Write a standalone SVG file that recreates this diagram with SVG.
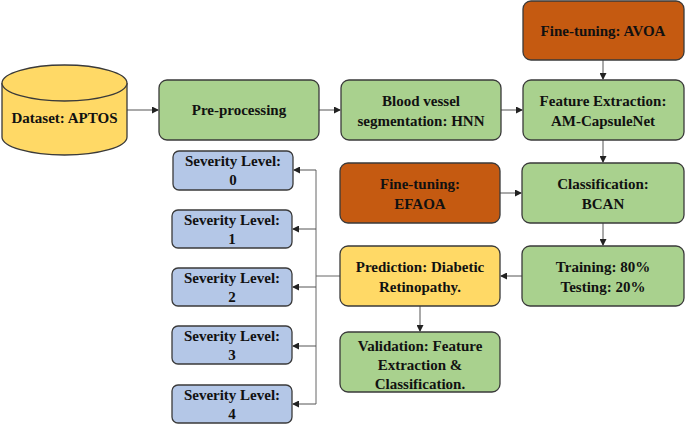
<svg xmlns="http://www.w3.org/2000/svg" width="685" height="425" viewBox="0 0 685 425">
<style>
.b{stroke:#3a3a3a;stroke-width:1.3}
.g{fill:#A9D18E}.o{fill:#C55A11}.y{fill:#FFD966}.l{fill:#B4C7E7}
text{font-family:"Liberation Serif","Times New Roman","DejaVu Serif",serif;font-weight:bold;font-size:15px;fill:#111;text-anchor:middle}
.c{stroke:#555;stroke-width:1;fill:none;marker-end:url(#a)}
</style>
<defs><marker id="a" markerWidth="7" markerHeight="7" refX="6" refY="3.5" orient="auto" markerUnits="userSpaceOnUse"><path d="M0,0L7,3.5L0,7z" fill="#222"/></marker></defs>
<g id="connectors">
<path class="c" d="M127,110H158"/>
<path class="c" d="M319,110H340"/>
<path class="c" d="M501,110H522"/>
<path class="c" d="M603,60V79"/>
<path class="c" d="M603,140V162"/>
<path class="c" d="M500,193H521"/>
<path class="c" d="M603,223V245"/>
<path class="c" d="M522,276H501"/>
<path class="c" d="M420,306V331"/>
<path d="M340,276H316M316,170V404" stroke="#666" fill="none"/>
<path class="c" d="M316,170H294"/>
<path class="c" d="M316,229H293"/>
<path class="c" d="M316,287H293"/>
<path class="c" d="M316,346H293"/>
<path class="c" d="M316,404H293"/>
</g>
<g id="dataset"><path class="b y" d="M2,83V137A62.5,18 0 0 0 127,137V83"/><ellipse class="b y" cx="64.5" cy="83" rx="62.5" ry="18"/><text x="64.5" y="123">Dataset: APTOS</text></g>
<g id="pre"><rect class="b g" x="159" y="80" width="160" height="60" rx="8"/><text x="239" y="115">Pre-processing</text></g>
<g id="blood"><rect class="b g" x="341" y="80" width="160" height="60" rx="8"/><text x="421" y="106">Blood vessel</text><text x="421" y="126">segmentation: HNN</text></g>
<g id="feature"><rect class="b g" x="523" y="80" width="161" height="60" rx="8"/><text x="603" y="106">Feature Extraction:</text><text x="603" y="126">AM-CapsuleNet</text></g>
<g id="avoa"><rect class="b o" x="523" y="1" width="161" height="59" rx="8"/><text x="603" y="36">Fine-tuning: AVOA</text></g>
<g id="efaoa"><rect class="b o" x="340" y="163" width="160" height="60" rx="8"/><text x="420" y="189">Fine-tuning:</text><text x="420" y="209">EFAOA</text></g>
<g id="class"><rect class="b g" x="522" y="163" width="162" height="60" rx="8"/><text x="603" y="189">Classification:</text><text x="603" y="209">BCAN</text></g>
<g id="train"><rect class="b g" x="522" y="246" width="162" height="60" rx="8"/><text x="603" y="272">Training: 80%</text><text x="603" y="292">Testing: 20%</text></g>
<g id="pred"><rect class="b y" x="340" y="246" width="160" height="60" rx="8"/><text x="420" y="272">Prediction: Diabetic</text><text x="420" y="292">Retinopathy.</text></g>
<g id="valid"><rect class="b g" x="340" y="332" width="160" height="60" rx="8"/><text x="420" y="351">Validation: Feature</text><text x="420" y="370">Extraction &amp;</text><text x="420" y="389">Classification.</text></g>
<g id="s0"><rect class="b l" x="173" y="151" width="120" height="39" rx="6"/><text x="233" y="166">Severity Level:</text><text x="233" y="185">0</text></g>
<g id="s1"><rect class="b l" x="172" y="210" width="120" height="38" rx="6"/><text x="232" y="225">Severity Level:</text><text x="232" y="244">1</text></g>
<g id="s2"><rect class="b l" x="172" y="268" width="120" height="38" rx="6"/><text x="232" y="283">Severity Level:</text><text x="232" y="302">2</text></g>
<g id="s3"><rect class="b l" x="172" y="326" width="120" height="38" rx="6"/><text x="232" y="341">Severity Level:</text><text x="232" y="360">3</text></g>
<g id="s4"><rect class="b l" x="172" y="385" width="120" height="38" rx="6"/><text x="232" y="400">Severity Level:</text><text x="232" y="419">4</text></g>
</svg>
